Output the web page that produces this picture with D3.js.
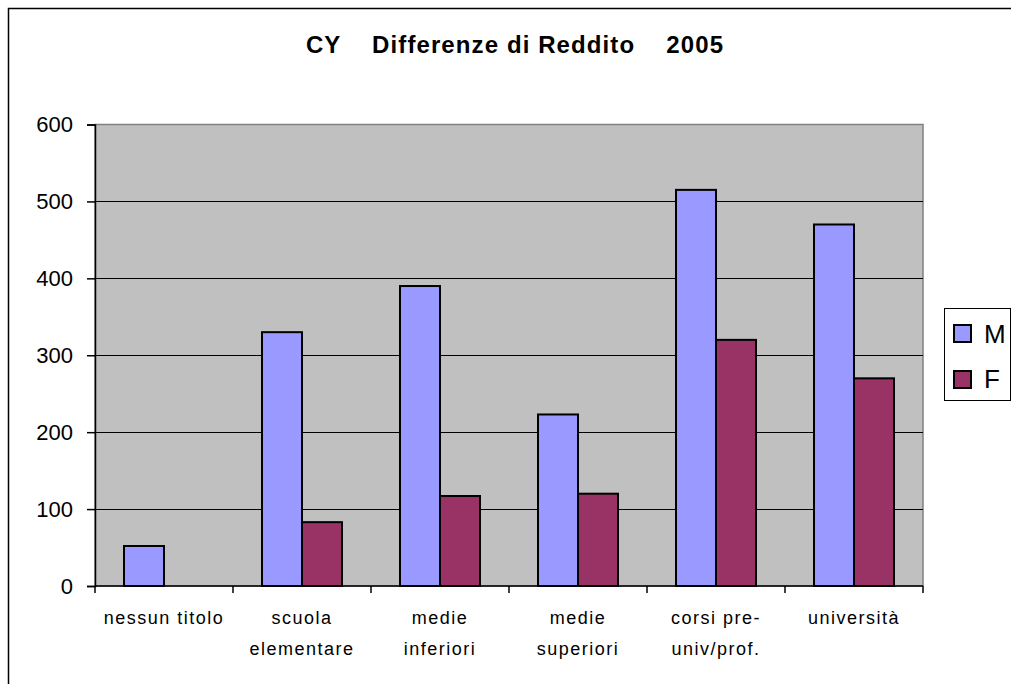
<!DOCTYPE html>
<html>
<head>
<meta charset="utf-8">
<script src="https://cdn.jsdelivr.net/npm/d3@7"></script>
<style>
  html, body { margin: 0; padding: 0; background: #fff; }
  svg { display: block; font-family: Arial, "Liberation Sans", sans-serif; }
</style>
</head>
<body>
<div id="chart"></div>
<script>
// data
const categories = ['nessun titolo', 'scuola elementare', 'medie inferiori', 'medie superiori', 'corsi pre-univ/prof.', 'università'];
const categoryLines = [['nessun titolo'], ['scuola', 'elementare'], ['medie', 'inferiori'], ['medie', 'superiori'], ['corsi pre-', 'univ/prof.'], ['università']];
const series = ['M', 'F'];
const valuesM = [52, 330, 390, 223, 515, 470];
const valuesF = [0, 83, 117, 120, 320, 270];
const yTicks = [0, 100, 200, 300, 400, 500, 600];
const colors = ['#9999FF', '#993366'];

let
  width = 1011,
  height = 684,
  plot = {left: 95, right: 923, top: 124.5, bottom: 586}
;

let svg = d3.select('#chart')
  .append('svg')
  .attr('width', width)
  .attr('height', height);

/*outer frame*/
svg.append('rect')
  .attr('x', 8.5).attr('y', 8.5)
  .attr('width', 1200).attr('height', 900)
  .attr('fill', '#fff')
  .attr('stroke', '#000')
  .attr('stroke-width', 1.5);

/*title*/
svg.append('text')
  .attr('x', 515)
  .attr('y', 53)
  .attr('text-anchor', 'middle')
  .attr('font-size', 24)
  .attr('font-weight', 'bold')
  .attr('letter-spacing', 1.1)
  .style('white-space', 'pre')
  .text('CY    Differenze di Reddito    2005');

let x = d3.scaleBand()
  .domain(categories)
  .range([plot.left, plot.right]);

let xs = d3.scaleBand()
  .domain(series)
  .range([0, x.bandwidth()])
  .paddingOuter(0.725);

let y = d3.scaleLinear()
  .domain([0, 600])
  .range([plot.bottom, plot.top]);

/*plot area*/
svg.append('rect')
  .attr('x', plot.left)
  .attr('y', plot.top)
  .attr('width', plot.right - plot.left)
  .attr('height', plot.bottom - plot.top)
  .attr('fill', '#C0C0C0')
  .attr('stroke', '#808080')
  .attr('stroke-width', 1.5);

/*grid*/
svg.append('g')
  .selectAll('line')
  .data(yTicks.filter(d => d > 0 && d < 600))
  .enter()
  .append('line')
  .attr('x1', plot.left).attr('x2', plot.right)
  .attr('y1', d => Math.round(y(d)) + 0.5)
  .attr('y2', d => Math.round(y(d)) + 0.5)
  .attr('stroke', '#000')
  .attr('stroke-width', 1.2);

/*bars*/
let rows = categories.map((c, i) => ({cat: c, M: valuesM[i], F: valuesF[i]}));

let groups = svg.append('g')
  .selectAll('g')
  .data(rows)
  .enter()
  .append('g')
  .attr('transform', d => `translate(${x(d.cat)}, 0)`);

groups.selectAll('rect')
  .data(d => series.map((s, k) => ({s: s, k: k, v: d[s]})).filter(e => e.v > 0))
  .enter()
  .append('rect')
  .attr('x', d => xs(d.s))
  .attr('width', xs.bandwidth())
  .attr('y', d => y(d.v))
  .attr('height', d => y(0) - y(d.v))
  .attr('fill', d => colors[d.k])
  .attr('stroke', '#000')
  .attr('stroke-width', 2);

/*y axis*/
let yAxis = svg.append('g')
  .attr('transform', `translate(${plot.left}, 0)`)
  .call(d3.axisLeft(y).tickValues(yTicks).tickSize(8).tickPadding(14));

yAxis.select('.domain').attr('stroke', '#000').attr('stroke-width', 1.5);
yAxis.selectAll('.tick line').attr('stroke', '#000').attr('stroke-width', 1.5);
yAxis.selectAll('.tick text')
  .attr('font-size', 22)
  .attr('font-family', 'Arial, "Liberation Sans", sans-serif')
  .attr('fill', '#000');

/*x axis*/
let xAxis = svg.append('g')
  .attr('transform', `translate(0, ${plot.bottom})`);

xAxis.append('line')
  .attr('x1', plot.left).attr('x2', plot.right)
  .attr('y1', 0).attr('y2', 0)
  .attr('stroke', '#000')
  .attr('stroke-width', 1.5);

xAxis.selectAll('.xt')
  .data(categories.concat(['end']))
  .enter()
  .append('line')
  .attr('class', 'xt')
  .attr('x1', (d, i) => i < categories.length ? x(d) : plot.right)
  .attr('x2', (d, i) => i < categories.length ? x(d) : plot.right)
  .attr('y1', 0).attr('y2', 7)
  .attr('stroke', '#000')
  .attr('stroke-width', 1.5);

let labels = xAxis.selectAll('.xl')
  .data(categories)
  .enter()
  .append('text')
  .attr('class', 'xl')
  .attr('text-anchor', 'middle')
  .attr('font-size', 18)
  .attr('letter-spacing', 1.5);

labels.selectAll('tspan')
  .data((d, i) => categoryLines[i].map(t => ({t: t, c: d})))
  .enter()
  .append('tspan')
  .attr('x', d => x(d.c) + x.bandwidth() / 2)
  .attr('y', (d, j) => 38 + j * 31)
  .text(d => d.t);

/*legend*/
let legend = svg.append('g');

legend.append('rect')
  .attr('x', 944.5).attr('y', 308.5)
  .attr('width', 66).attr('height', 92)
  .attr('fill', '#fff')
  .attr('stroke', '#000')
  .attr('stroke-width', 1);

series.forEach((s, k) => {
  legend.append('rect')
    .attr('x', 954).attr('y', 325 + k * 46)
    .attr('width', 17).attr('height', 17)
    .attr('fill', colors[k])
    .attr('stroke', '#000')
    .attr('stroke-width', 2);
  legend.append('text')
    .attr('x', 984).attr('y', 343 + k * 45)
    .attr('font-size', 26)
    .text(s);
});
</script>
</body>
</html>
